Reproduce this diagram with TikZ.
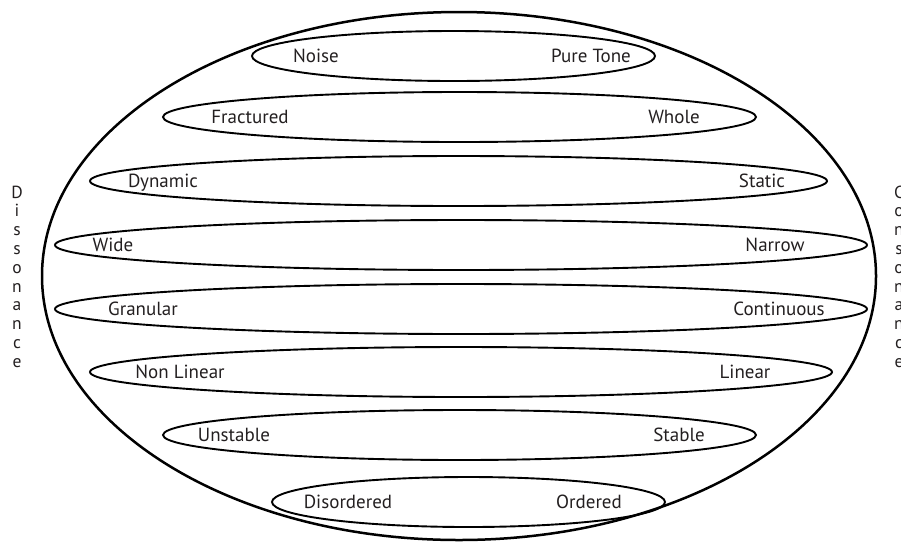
\documentclass[tikz,border=0pt]{standalone}
\usepackage{fontspec}
\setmainfont{PT Sans}
\usetikzlibrary{shapes.geometric}
\definecolor{ink}{RGB}{35,31,32}
\begin{document}
\begin{tikzpicture}[x=1pt,y=-1pt,
  bigoval/.style={ellipse, draw=black, line width=2.5pt, inner sep=0pt},
  band/.style={ellipse, draw=black, line width=1.9pt, inner sep=0pt, minimum height=50pt},
  lbl/.style={font=\fontsize{19}{22}\selectfont, text=ink, anchor=base, inner sep=0pt},
  side/.style={font=\fontsize{17.5}{19}\selectfont, text=ink, anchor=base, inner sep=0pt}]
\useasboundingbox (0,0) rectangle (901,542);
\node[bigoval, minimum width=834pt, minimum height=528pt] (globe) at (459,276) {};
% bands
\node[band, minimum width=403pt] (b1) at (453.5,56) {};
\node[band, minimum width=593pt] (b2) at (459.5,117) {};
\node[band, minimum width=737pt] (b3) at (458.5,181) {};
\node[band, minimum width=812pt] (b4) at (461,245) {};
\node[band, minimum width=812pt] (b5) at (461,309) {};
\node[band, minimum width=742pt] (b6) at (461,372) {};
\node[band, minimum width=593pt] (b7) at (459.5,435) {};
\node[band, minimum width=393pt] (b8) at (468.5,502) {};
% labels
\node[lbl] (noise) at (316,62.5) {Noise};
\node[lbl] (pure) at (591,62.5) {Pure Tone};
\node[lbl] (fract) at (250,123.5) {Fractured};
\node[lbl] (whole) at (674,123.5) {Whole};
\node[lbl] (dyn) at (163,187.5) {Dynamic};
\node[lbl] (stat) at (762,187.5) {Static};
\node[lbl] (wide) at (113,251.5) {Wide};
\node[lbl] (narrow) at (775,251.5) {Narrow};
\node[lbl] (gran) at (143,315.5) {Granular};
\node[lbl] (cont) at (779,315.5) {Continuous};
\node[lbl] (nonlin) at (180,378.5) {Non Linear};
\node[lbl] (lin) at (745,378.5) {Linear};
\node[lbl] (unst) at (234,441.5) {Unstable};
\node[lbl] (stab) at (679,441.5) {Stable};
\node[lbl] (disord) at (348,508.5) {Disordered};
\node[lbl] (ord) at (589,508.5) {Ordered};
% side words
\foreach \ch [count=\i from 0] in {D,i,s,s,o,n,a,n,c,e}
  \node[side] (dis\i) at (17,198+18.8*\i) {\ch};
\foreach \ch [count=\i from 0] in {C,o,n,s,o,n,a,n,c,e}
  \node[side] (con\i) at (899,198+18.8*\i) {\ch};
\end{tikzpicture}
\end{document}
